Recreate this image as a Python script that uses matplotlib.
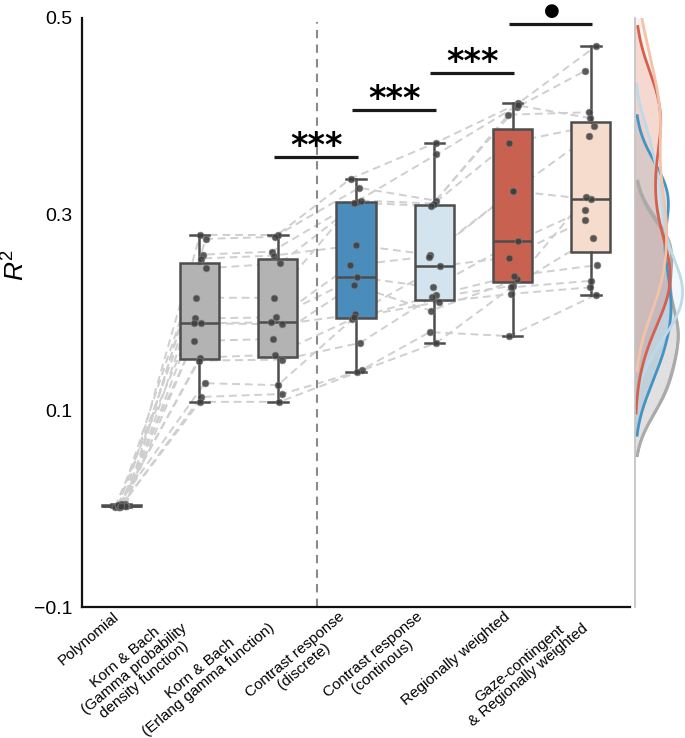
import numpy as np
import matplotlib
matplotlib.use('Agg')
import matplotlib.pyplot as plt

plt.rcParams['font.family'] = ['Liberation Sans', 'DejaVu Sans']
plt.rcParams['mathtext.fontset'] = 'custom'
plt.rcParams['mathtext.it'] = 'Liberation Sans:italic'
plt.rcParams['mathtext.rm'] = 'Liberation Sans'

# ---------------- data ----------------
models = ["Polynomial",
          "Korn & Bach\n(Gamma probability\ndensity function)",
          "Korn & Bach\n(Erlang gamma function)",
          "Contrast response\n(discrete)",
          "Contrast response\n(continous)",
          "Regionally weighted",
          "Gaze-contingent\n& Regionally weighted"]

polynomial = [0.004, 0.003, 0.005, 0.002, 0.004, 0.003, 0.002, 0.004, 0.003, 0.005, 0.002, 0.003, 0.004, 0.002, 0.003]
korn_gamma = [0.279, 0.275, 0.259, 0.255, 0.245, 0.215, 0.194, 0.189, 0.189, 0.171, 0.154, 0.151, 0.128, 0.114, 0.109]
korn_erlang = [0.279, 0.277, 0.262, 0.258, 0.250, 0.215, 0.195, 0.190, 0.188, 0.173, 0.157, 0.152, 0.126, 0.117, 0.109]
contrast_discrete = [0.327, 0.3365, 0.313, 0.2685, 0.314, 0.312, 0.236, 0.248, 0.198, 0.228, 0.193, 0.169, 0.195, 0.141, 0.139]
contrast_continuous = [0.314, 0.373, 0.361, 0.259, 0.311, 0.3085, 0.2256, 0.257, 0.2475, 0.2018, 0.218, 0.2155, 0.2107, 0.169, 0.180]
regionally_weighted = [0.409, 0.413, 0.411, 0.3237, 0.4015, 0.3728, 0.2733, 0.3237, 0.256, 0.234, 0.2374, 0.2272, 0.219, 0.2256, 0.176]
gaze_regional = [0.4462, 0.471, 0.398, 0.3152, 0.404, 0.3904, 0.3044, 0.3795, 0.2939, 0.3176, 0.2482, 0.276, 0.2256, 0.2323, 0.2178]

box_colors = ['#b3b3b3', '#b3b3b3', '#b3b3b3', '#4a8cbb', '#d3e4ef', '#c8614f', '#f6dccd']
kde_colors = [None, '#aaaaaa', '#aaaaaa', '#4393c3', '#bcdaea', '#d6604d', '#f4c2a6']

sig_pairs = [(2, 3), (3, 4), (4, 5), (5, 6)]
sig_labels = ['***', '***', '***', '\u25CF']
sig_heights = [0.358, 0.4066, 0.444, 0.4939]

ytick_vals = [-0.1, 0.1, 0.3, 0.5]

# ---------------- figure ----------------
W, H = 685, 738
fig = plt.figure(figsize=(W / 100, H / 100), dpi=100)
ax = fig.add_axes([82 / W, 1 - 607 / H, (630 - 82) / W, (607 - 18) / H])
axm = fig.add_axes([635 / W, 1 - 607 / H, 50 / W, (607 - 18) / H], sharey=ax)

data = [polynomial, korn_gamma, korn_erlang, contrast_discrete,
        contrast_continuous, regionally_weighted, gaze_regional]
positions = np.arange(len(data))
n = len(polynomial)

rng = np.random.default_rng(7)
jit = rng.uniform(-0.08, 0.08, size=(len(data), n))

# connecting subject lines
for s in range(n):
    xs = positions + jit[:, s]
    ys = [d[s] for d in data]
    ax.plot(xs, ys, ls=(0, (4, 2.5)), color='#cfcfcf', lw=1.4, zorder=1)

bp = ax.boxplot(data, positions=positions, widths=0.5, patch_artist=True,
                showfliers=False, zorder=2,
                boxprops=dict(edgecolor='#4d4d4d', linewidth=1.8),
                medianprops=dict(color='#4d4d4d', linewidth=1.8),
                whiskerprops=dict(color='#4d4d4d', linewidth=1.8),
                capprops=dict(color='#4d4d4d', linewidth=1.8))
for patch, c in zip(bp['boxes'], box_colors):
    patch.set_facecolor(c)

for i, d in enumerate(data):
    ax.scatter(positions[i] + jit[i], d, s=24, facecolor='#3d3d3d',
               edgecolor='#808080', linewidth=0.5, alpha=0.85, zorder=3)

# vertical divider
ax.plot([2.5, 2.5], [-0.1, 0.496], ls=(0, (4, 3)), color='#8a8a8a', lw=1.5, zorder=1)

# significance bars
for (a, b), lab, h in zip(sig_pairs, sig_labels, sig_heights):
    ax.plot([a - 0.05, b + 0.02], [h, h], color='#1a1a1a', lw=2.3,
            solid_capstyle='butt', zorder=4)
    if lab == '***':
        ax.text((a + b) / 2 - 0.01, h - 0.006, lab, ha='center', va='bottom',
                fontsize=24, fontweight='bold', family=['DejaVu Sans'])
    else:
        ax.text((a + b) / 2, 0.5075, lab, ha='center', va='center',
                fontsize=13, family=['DejaVu Sans'], clip_on=False)

ax.set_xlim(-0.5, 6.5)
ax.set_ylim(-0.1, 0.5)
ax.set_yticks(ytick_vals)
ax.set_yticklabels(['\u22120.1', '0.1', '0.3', '0.5'])
ax.tick_params(axis='y', length=0, pad=7, labelsize=14)
ax.set_xticks(positions)
ax.set_xticklabels(models, rotation=40, ha='right', multialignment='center',
                   fontsize=11, linespacing=1.05)
ax.tick_params(axis='x', length=0, pad=2)
for sp in ['top', 'right']:
    ax.spines[sp].set_visible(False)
for sp in ['left', 'bottom']:
    ax.spines[sp].set_linewidth(1.6)
    ax.spines[sp].set_color('#111111')
ax.set_ylabel(r'$\mathit{R}^{2}$', fontsize=19)
ax.yaxis.set_label_coords(-0.095, 0.58)

# marginal KDEs (Gaussian kernel)
grid_max = 0
for i in range(1, len(data)):
    v = np.asarray(data[i])
    bw = 0.85 * v.std(ddof=1) * n ** (-1 / 5)
    grid = np.linspace(v.min() - 1.9 * bw, v.max() + 1.9 * bw, 300)
    dens = np.exp(-0.5 * ((grid[:, None] - v[None, :]) / bw) ** 2).sum(1) / (n * bw * np.sqrt(2 * np.pi))
    grid_max = max(grid_max, dens.max())
    axm.fill_betweenx(grid, 0, dens, color=kde_colors[i], alpha=0.2, lw=0)
    axm.plot(dens, grid, color=kde_colors[i], lw=2)

axm.set_xlim(0, grid_max * 1.05)
axm.tick_params(left=False, bottom=False, labelleft=False, labelbottom=False)
for sp in ['top', 'right', 'bottom']:
    axm.spines[sp].set_visible(False)
axm.spines['left'].set_color('#c0c0c0')
axm.spines['left'].set_linewidth(1.2)
axm.patch.set_alpha(0)

fig.savefig('out.png', dpi=100)
